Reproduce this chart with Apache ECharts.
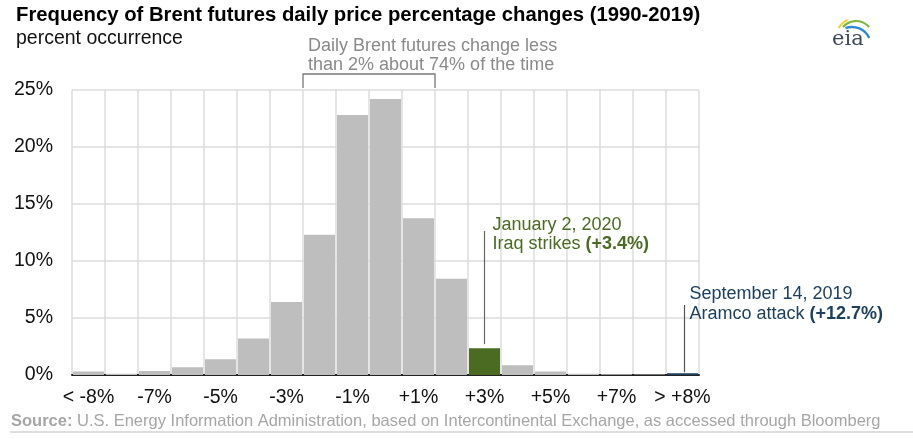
<!DOCTYPE html>
<html><head><meta charset="utf-8">
<script src="https://cdn.jsdelivr.net/npm/echarts@6/dist/echarts.min.js"></script>
<style>html,body{margin:0;padding:0;background:#fff;}#c{width:913px;height:439px;}</style>
</head><body><div id="c"></div>
<script>
const categories = ['< -8%','-8%','-7%','-6%','-5%','-4%','-3%','-2%','-1%','0%','+1%','+2%','+3%','+4%','+5%','+6%','+7%','+8%','> +8%'];
const occurrence = [0.3,0.1,0.35,0.68,1.38,3.2,6.4,12.3,22.8,24.2,13.75,8.45,2.35,0.85,0.3,0.12,0.06,0.04,0.15];
const yTicks = [0,5,10,15,20,25];
const GREY='#bebebe', GREEN='#4a6b21', BLUE='#1d405e';
const barColors = occurrence.map((v,i)=> i===12?GREEN:(i===18?BLUE:GREY));
const FONT='Liberation Sans, Arial, sans-serif';

const chart = echarts.init(document.getElementById('c'), null, {renderer:'canvas'});
chart.setOption({
  animation:false,
  textStyle:{fontFamily:FONT},
  grid:{left:72,right:214,top:90,bottom:64},
  xAxis:{type:'category',data:categories,
    axisLine:{lineStyle:{color:'#222',width:2}},
    axisTick:{show:false},
    axisLabel:{interval:1,color:'#111',fontSize:19.5,margin:13,fontFamily:FONT},
    splitLine:{show:true,interval:0,lineStyle:{color:'#dcdcdc',width:1.5}}},
  yAxis:{type:'value',min:yTicks[0],max:yTicks[yTicks.length-1],interval:5,
    axisLine:{show:false},axisTick:{show:false},
    axisLabel:{formatter:'{value}%',color:'#111',fontSize:19.5,margin:19,fontFamily:FONT},
    splitLine:{lineStyle:{color:'#dcdcdc',width:1.5}}},
  series:[{type:'bar',data:occurrence.map((v,i)=>({value:v,itemStyle:{color:barColors[i]}})),
    barCategoryGap:'6%',z:3}]
});

const px = (i,v)=>chart.convertToPixel({xAxisIndex:0,yAxisIndex:0},[i,v]);
const pBL = px(7,0), pBR = px(10,0);
const half = (px(1,0)[0]-px(0,0)[0])/2;
const bx1 = pBL[0]-half, bx2 = pBR[0]+half;
const gP = px(12,occurrence[12]), bP = px(18,occurrence[18]);

chart.setOption({graphic:[
  {type:'text',left:16,top:5,style:{text:'Frequency of Brent futures daily price percentage changes (1990-2019)',font:'bold 20.3px '+FONT,fill:'#000'}},
  {type:'text',left:16,top:29,style:{text:'percent occurrence',font:'19.5px '+FONT,fill:'#111'}},
  // bracket
  {type:'polyline',shape:{points:[[bx1,88],[bx1,74],[bx2,74],[bx2,88]]},style:{stroke:'#777',lineWidth:1.3,fill:null}},
  {type:'text',x:bx1+5,y:36.5,style:{text:'Daily Brent futures change less\nthan 2% about 74% of the time',font:'18px '+FONT,fill:'#8a8a8a',lineHeight:19}},
  // Iraq
  {type:'line',shape:{x1:gP[0],y1:231,x2:gP[0],y2:gP[1]-4},style:{stroke:'#666',lineWidth:1.2}},
  {type:'text',x:gP[0]+8,y:216,style:{text:'January 2, 2020',font:'18px '+FONT,fill:GREEN}},
  {type:'text',x:gP[0]+8,y:235,style:{rich:{a:{font:'18px '+FONT,fill:GREEN},b:{font:'bold 18px '+FONT,fill:GREEN}},text:'{a|Iraq strikes }{b|(+3.4%)}'}},
  // Aramco
  {type:'line',shape:{x1:bP[0]+2,y1:305,x2:bP[0]+2,y2:bP[1]-1},style:{stroke:'#555',lineWidth:1.2}},
  {type:'text',x:bP[0]+7,y:285,style:{text:'September 14, 2019',font:'18px '+FONT,fill:BLUE}},
  {type:'text',x:bP[0]+7,y:305,style:{rich:{a:{font:'18px '+FONT,fill:BLUE},b:{font:'bold 18px '+FONT,fill:BLUE}},text:'{a|Aramco attack }{b|(+12.7%)}'}},
  // source
  {type:'text',left:11,top:413,style:{rich:{a:{font:'bold 16.5px '+FONT,fill:'#a6a6a6'},b:{font:'16.5px '+FONT,fill:'#a6a6a6'}},text:'{a|Source:}{b| U.S. Energy Information Administration, based on Intercontinental Exchange, as accessed through Bloomberg}'}},
  {type:'line',shape:{x1:10,y1:432,x2:913,y2:432},style:{stroke:'#dedede',lineWidth:2}},
  // eia logo
  {type:'arc',shape:{cx:856,cy:38,r:20,startAngle:-Math.PI*150/180,endAngle:-Math.PI*115/180},style:{stroke:'#f2d338',lineWidth:2.2,fill:null}},
  {type:'arc',shape:{cx:856,cy:38,r:17,startAngle:-Math.PI*140/180,endAngle:-Math.PI*40/180},style:{stroke:'#7cb842',lineWidth:2.2,fill:null}},
  {type:'arc',shape:{cx:852,cy:46,r:19,startAngle:-Math.PI*110/180,endAngle:-Math.PI*25/180},style:{stroke:'#2e8ad0',lineWidth:2.4,fill:null}},
  {type:'text',x:832,y:29,style:{text:'eia',font:'21px DejaVu Serif, Liberation Serif, serif',fill:'#3d4a5c'}}
]});
</script></body></html>
